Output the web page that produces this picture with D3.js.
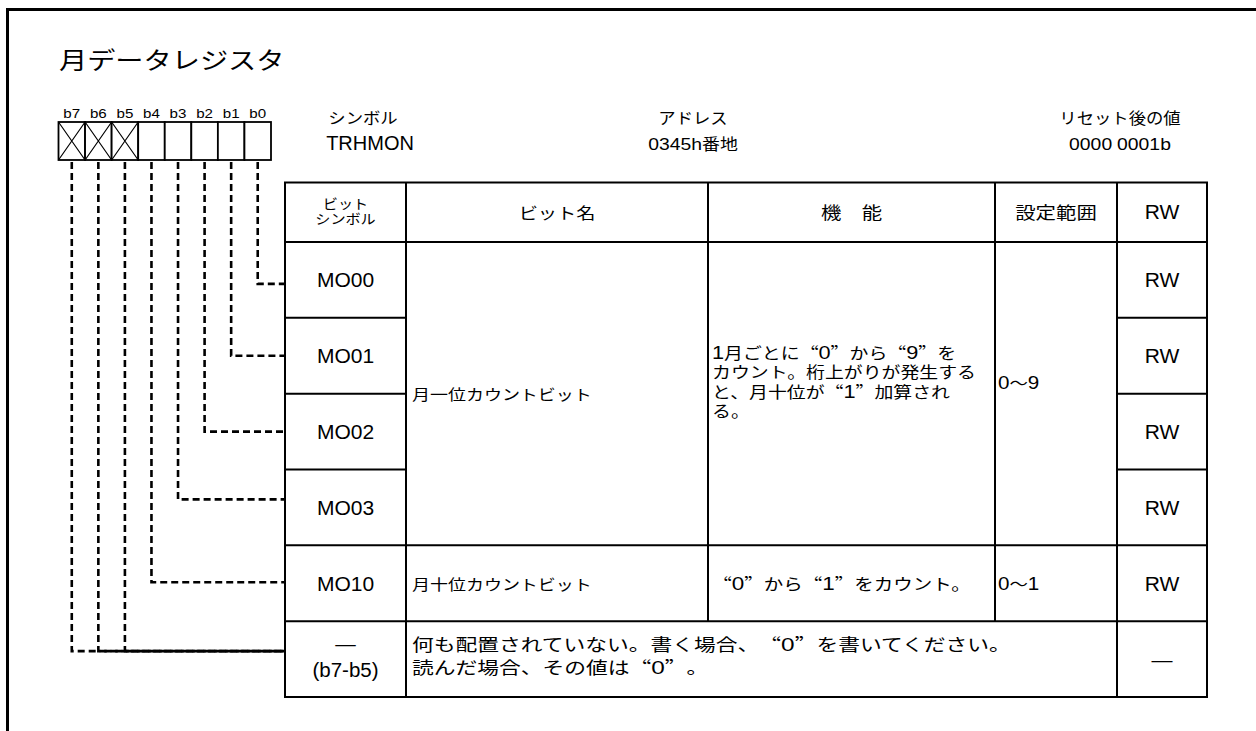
<!DOCTYPE html>
<html>
<head>
<meta charset="utf-8">
<script src="https://cdn.jsdelivr.net/npm/d3@7"></script>
<style>
  html, body { margin: 0; padding: 0; background: #fff; }
  svg { display: block; }
  text { font-family: "Liberation Sans", Arial, "Noto Sans CJK JP", sans-serif; fill: #000; }
  .q { font-family: "Noto Sans CJK JP", sans-serif; font-feature-settings: "fwid" 1; }
</style>
</head>
<body>
<svg id="chart" width="1256" height="731"></svg>
<script>
// ---------------- data ----------------
const title = "月データレジスタ";
const bitLabels = ["b7", "b6", "b5", "b4", "b3", "b2", "b1", "b0"];
const reservedBits = ["b7", "b6", "b5"];
const infoLabels = ["シンボル", "アドレス", "リセット後の値"];
const infoValues = ["TRHMON", "0345h番地", "0000 0001b"];
const headers = ["ビット\nシンボル", "ビット名", "機　能", "設定範囲", "RW"];
const bitSymbols = ["MO00", "MO01", "MO02", "MO03", "MO10", "—\n(b7-b5)"];
const rwValues = ["RW", "RW", "RW", "RW", "RW", "—"];
const bitToRow = { b0: "MO00", b1: "MO01", b2: "MO02", b3: "MO03", b4: "MO10", b5: "—\n(b7-b5)", b6: "—\n(b7-b5)", b7: "—\n(b7-b5)" };
const nameLow = "月一位カウントビット";
const funcLow = "1月ごとに“0”から“9”を\nカウント。桁上がりが発生する\nと、月十位が“1”加算され\nる。";
const rangeLow = "0～9";
const nameHigh = "月十位カウントビット";
const funcHigh = "“0”から“1”をカウント。";
const rangeHigh = "0～1";
const reservedText = "何も配置されていない。書く場合、“0”を書いてください。\n読んだ場合、その値は“0”。";

// ---------------- layout ----------------
const svg = d3.select("#chart");
const colEdges = [285, 406, 708, 995, 1117, 1207];
const headTop = 182.5, headBottom = 242, tableBottom = 697;

const xBit = d3.scaleBand().domain(bitLabels).range([58.5, 271]).padding(0);
const yRow = d3.scaleBand().domain(bitSymbols).range([headBottom, tableBottom]).padding(0);
const connOffset = { "MO00": 4, "MO01": 0, "MO02": 0, "MO03": -8, "MO10": -1, "—\n(b7-b5)": -8 };

function writeRuns(sel, str, size, latinScale) {
  const parts = str.split(/([“”]|[0-9A-Za-z]+)/).filter(s => s.length);
  parts.forEach(p => {
    const t = sel.append("tspan").text(p);
    if (p === "“" || p === "”") t.attr("class", "q");
    else if (latinScale && /^[0-9A-Za-z]+$/.test(p)) t.attr("font-size", size * latinScale);
  });
}
// text with optional horizontal stretch (sx) and multiple lines
function txt(g, str, x, y, opts) {
  const sx = opts.sx || 1;
  const lines = String(str).split("\n");
  const t = g.append("text")
    .attr("transform", `translate(${x},${y}) scale(${sx},1)`)
    .attr("font-size", opts.size)
    .attr("text-anchor", opts.anchor || "start");
  lines.forEach((ln, i) => {
    const ts = t.append("tspan").attr("x", 0).attr("dy", i === 0 ? 0 : opts.lh);
    writeRuns(ts, ln, opts.size, opts.ls);
  });
  return t;
}

// frame
svg.append("path")
  .attr("d", "M1256,9.5H7.5V731")
  .attr("fill", "none").attr("stroke", "#000").attr("stroke-width", 3);

// title
txt(svg, title, 59, 69, { size: 23.5, sx: 1.2 });

// bit boxes
const gBits = svg.append("g");
gBits.selectAll("rect").data(bitLabels).join("rect")
  .attr("x", d => xBit(d)).attr("y", 122)
  .attr("width", xBit.bandwidth()).attr("height", 38)
  .attr("fill", "#fff").attr("stroke", "#000").attr("stroke-width", 1.8);
gBits.selectAll("path.cross").data(reservedBits).join("path").attr("class", "cross")
  .attr("d", d => {
    const x0 = xBit(d), x1 = x0 + xBit.bandwidth();
    return `M${x0},122L${x1},160M${x1},122L${x0},160`;
  })
  .attr("stroke", "#000").attr("stroke-width", 1.2).attr("fill", "none");
bitLabels.forEach(d => {
  txt(gBits, d, xBit(d) + xBit.bandwidth() / 2, 118, { size: 13.5, sx: 1.12, anchor: "middle" });
});

// dashed connectors
const gConn = svg.append("g")
  .attr("fill", "none").attr("stroke", "#000").attr("stroke-width", 2.6)
  .attr("stroke-dasharray", "7,4");
gConn.selectAll("path").data(bitLabels).join("path")
  .attr("d", d => {
    const x = xBit(d) + xBit.bandwidth() / 2;
    const r = bitToRow[d];
    const y = yRow(r) + yRow.bandwidth() / 2 + connOffset[r];
    return `M${x},162V${y}H${colEdges[0]}`;
  });

// info texts
const infoX = [363, 693, 1120];
infoLabels.forEach((d, i) => {
  txt(svg, d, infoX[i], 124, { size: 15.5, sx: 1.12, anchor: "middle" });
  txt(svg, infoValues[i], infoX[i] + (i === 0 ? 7 : 0), 150,
      i === 0 ? { size: 20, anchor: "middle" } : { size: 16, sx: 1.12, anchor: "middle", ls: 1.08 });
});

// table
const gT = svg.append("g");
const line = (x1, y1, x2, y2) => gT.append("line")
  .attr("x1", x1).attr("y1", y1).attr("x2", x2).attr("y2", y2)
  .attr("stroke", "#000").attr("stroke-width", 2);
const L = colEdges[0], R = colEdges[5];
gT.append("rect").attr("x", L).attr("y", headTop).attr("width", R - L).attr("height", tableBottom - headTop)
  .attr("fill", "none").attr("stroke", "#000").attr("stroke-width", 2);
line(L, headBottom, R, headBottom);
bitSymbols.forEach((r, i) => {
  if (i === 0) return;
  const y = yRow(r);
  if (i >= 1 && i <= 3) {
    line(L, y, colEdges[1], y);
    line(colEdges[4], y, R, y);
  } else {
    line(L, y, R, y);
  }
});
const yReserved = yRow(bitSymbols[5]);
line(colEdges[1], headTop, colEdges[1], tableBottom);
line(colEdges[2], headTop, colEdges[2], yReserved);
line(colEdges[3], headTop, colEdges[3], yReserved);
line(colEdges[4], headTop, colEdges[4], tableBottom);

const cx = i => (colEdges[i] + colEdges[i + 1]) / 2;
const rowMid = r => yRow(r) + yRow.bandwidth() / 2;

// headers
txt(gT, headers[0], cx(0), 208.5, { size: 13.5, sx: 1.12, anchor: "middle", lh: 15.5 });
txt(gT, headers[1], cx(1), 219, { size: 16, sx: 1.2, anchor: "middle" });
txt(gT, headers[2], cx(2), 219, { size: 17, sx: 1.2, anchor: "middle" });
txt(gT, headers[3], cx(3), 219, { size: 17, sx: 1.2, anchor: "middle" });
txt(gT, headers[4], cx(4), 219, { size: 21, anchor: "middle" });

// bit symbols
bitSymbols.forEach((s, i) => {
  if (i < 5) {
    txt(gT, s, cx(0), rowMid(s) + 7.5, { size: 21, anchor: "middle" });
  } else {
    txt(gT, s, cx(0), 651, { size: 20.5, anchor: "middle", lh: 26 });
  }
});
// RW
bitSymbols.forEach((s, i) => {
  txt(gT, rwValues[i], cx(4), rowMid(s) + 7.5, { size: 21, anchor: "middle" });
});

// merged low-digit cells
const lowMid = (yRow(bitSymbols[0]) + yRow(bitSymbols[3]) + yRow.bandwidth()) / 2;
txt(gT, nameLow, colEdges[1] + 6, lowMid + 6, { size: 15, sx: 1.2 });
txt(gT, funcLow, colEdges[2] + 4, lowMid - 35, { size: 15.5, sx: 1.22, lh: 19.5, ls: 1.15 });
txt(gT, rangeLow, colEdges[3] + 3, lowMid - 5, { size: 16, sx: 1.15, ls: 1.12 });

// MO10 row
const mHigh = rowMid(bitSymbols[4]) + 7;
txt(gT, nameHigh, colEdges[1] + 6, mHigh, { size: 15, sx: 1.2 });
txt(gT, funcHigh, cx(2) - 10, mHigh, { size: 16, sx: 1.22, anchor: "middle", ls: 1.15 });
txt(gT, rangeHigh, colEdges[3] + 3, mHigh, { size: 16, sx: 1.15, ls: 1.12 });

// reserved row
txt(gT, reservedText, colEdges[1] + 6, 651, { size: 17, sx: 1.28, lh: 23, ls: 1.12 });
</script>
</body>
</html>
